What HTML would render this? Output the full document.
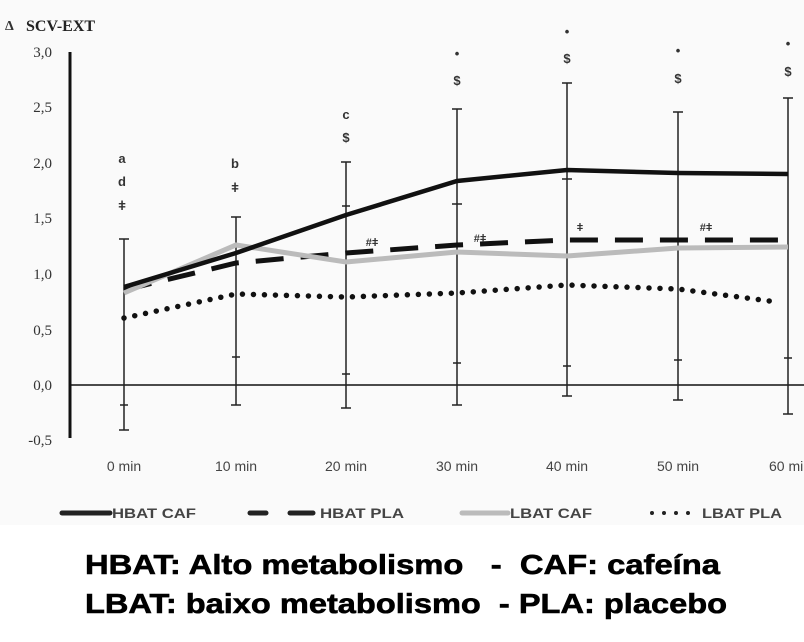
<!DOCTYPE html>
<html><head><meta charset="utf-8"><style>body{margin:0;background:#fff}svg{display:block}text{white-space:pre}</style></head><body>
<svg width="804" height="642" viewBox="0 0 804 642" xmlns="http://www.w3.org/2000/svg">
<rect width="804" height="642" fill="#fff"/>
<rect x="0" y="0" width="804" height="525" fill="#fafafa"/>
<g font-family="Liberation Serif, serif" font-size="15" fill="#333">
<text x="5" y="30" font-weight="bold" font-size="14">Δ</text>
<text x="26" y="31" font-size="16" font-weight="bold" fill="#222">SCV-EXT</text>
<g text-anchor="end">
<text x="52" y="57">3,0</text><text x="52" y="112">2,5</text><text x="52" y="168">2,0</text>
<text x="52" y="223">1,5</text><text x="52" y="279">1,0</text><text x="52" y="335">0,5</text>
<text x="52" y="390">0,0</text><text x="52" y="445">-0,5</text>
</g></g>
<line x1="70" y1="52" x2="70" y2="438" stroke="#111" stroke-width="3"/>
<line x1="70" y1="385" x2="804" y2="385" stroke="#111" stroke-width="1.5"/>
<g stroke="#222" stroke-width="1.5">
<line x1="124" y1="239" x2="124" y2="430"/><line x1="119" y1="239" x2="129" y2="239"/><line x1="119" y1="430" x2="129" y2="430"/><line x1="120" y1="405" x2="128" y2="405"/>
<line x1="236" y1="217" x2="236" y2="405"/><line x1="231" y1="217" x2="241" y2="217"/><line x1="231" y1="405" x2="241" y2="405"/><line x1="232" y1="357" x2="240" y2="357"/>
<line x1="346" y1="162" x2="346" y2="408"/><line x1="341" y1="162" x2="351" y2="162"/><line x1="341" y1="408" x2="351" y2="408"/><line x1="342" y1="374" x2="350" y2="374"/><line x1="342" y1="206" x2="350" y2="206"/>
<line x1="457" y1="109" x2="457" y2="405"/><line x1="452" y1="109" x2="462" y2="109"/><line x1="452" y1="405" x2="462" y2="405"/><line x1="453" y1="363" x2="461" y2="363"/><line x1="452" y1="204" x2="462" y2="204"/>
<line x1="567" y1="83" x2="567" y2="396"/><line x1="562" y1="83" x2="572" y2="83"/><line x1="562" y1="396" x2="572" y2="396"/><line x1="563" y1="366" x2="571" y2="366"/><line x1="562" y1="179" x2="572" y2="179"/>
<line x1="678" y1="112" x2="678" y2="400"/><line x1="673" y1="112" x2="683" y2="112"/><line x1="673" y1="400" x2="683" y2="400"/><line x1="674" y1="360" x2="682" y2="360"/>
<line x1="788" y1="98" x2="788" y2="414"/><line x1="783" y1="98" x2="793" y2="98"/><line x1="783" y1="414" x2="793" y2="414"/><line x1="784" y1="358" x2="792" y2="358"/>
</g>
<polyline points="124,318 236,294 346,297 457,293 567,285 678,289 777,302" fill="none" stroke="#111" stroke-width="5.5" stroke-dasharray="0 11" stroke-linecap="round"/>
<polyline points="124,290 236,263 346,253 457,245 567,240 678,240 788,240" fill="none" stroke="#111" stroke-width="5" stroke-dasharray="28 17"/>
<polyline points="124,293 236,245 346,262 457,252 567,256 678,248 788,247" fill="none" stroke="#bbb" stroke-width="5"/>
<polyline points="124,287 236,253 346,215 457,181 567,170 678,173 788,174" fill="none" stroke="#111" stroke-width="4.5"/>
<g font-family="Liberation Sans, sans-serif" font-size="13" fill="#333" text-anchor="middle" font-weight="bold">
<text x="122" y="163">a</text><text x="122" y="186">d</text><text x="122" y="210">ǂ</text>
<text x="235" y="168">b</text><text x="235" y="192">ǂ</text>
<text x="346" y="119">c</text><text x="346" y="142">$</text>
<text x="457" y="58">•</text><text x="457" y="85">$</text>
<text x="567" y="36">•</text><text x="567" y="63">$</text>
<text x="678" y="55">•</text><text x="678" y="83">$</text>
<text x="788" y="48">•</text><text x="788" y="76">$</text>
<text x="372" y="246" font-size="11">#ǂ</text><text x="480" y="242" font-size="11">#ǂ</text>
<text x="580" y="231" font-size="11">ǂ</text><text x="706" y="231" font-size="11">#ǂ</text>
</g>
<g font-family="Liberation Sans, sans-serif" font-size="14" fill="#444" text-anchor="middle">
<text x="124" y="471">0 min</text><text x="236" y="471">10 min</text><text x="346" y="471">20 min</text>
<text x="457" y="471">30 min</text><text x="567" y="471">40 min</text><text x="678" y="471">50 min</text><text x="790" y="471">60 min</text>
</g>
<line x1="62" y1="513" x2="110" y2="513" stroke="#222" stroke-width="5" stroke-linecap="round"/>
<line x1="250" y1="513" x2="266" y2="513" stroke="#222" stroke-width="5" stroke-linecap="round"/>
<line x1="290" y1="513" x2="313" y2="513" stroke="#222" stroke-width="5" stroke-linecap="round"/>
<line x1="462" y1="513" x2="508" y2="513" stroke="#bbb" stroke-width="5" stroke-linecap="round"/>
<line x1="652" y1="513" x2="700" y2="513" stroke="#222" stroke-width="4" stroke-dasharray="0 12" stroke-linecap="round"/>
<g font-family="Liberation Sans, sans-serif" font-size="14" fill="#444" font-weight="bold">
<text x="112" y="518" textLength="84" lengthAdjust="spacingAndGlyphs">HBAT CAF</text>
<text x="320" y="518" textLength="84" lengthAdjust="spacingAndGlyphs">HBAT PLA</text>
<text x="510" y="518" textLength="82" lengthAdjust="spacingAndGlyphs">LBAT CAF</text>
<text x="702" y="518" textLength="80" lengthAdjust="spacingAndGlyphs">LBAT PLA</text>
</g>
<g font-family="Liberation Sans, sans-serif" font-size="28" fill="#000" font-weight="bold" stroke="#000" stroke-width="0.6">
<text x="85" y="574" textLength="635" lengthAdjust="spacingAndGlyphs">HBAT: Alto metabolismo   -  CAF: cafeína</text>
<text x="85" y="613" textLength="642" lengthAdjust="spacingAndGlyphs">LBAT: baixo metabolismo  - PLA: placebo</text>
</g>
</svg>
</body></html>
